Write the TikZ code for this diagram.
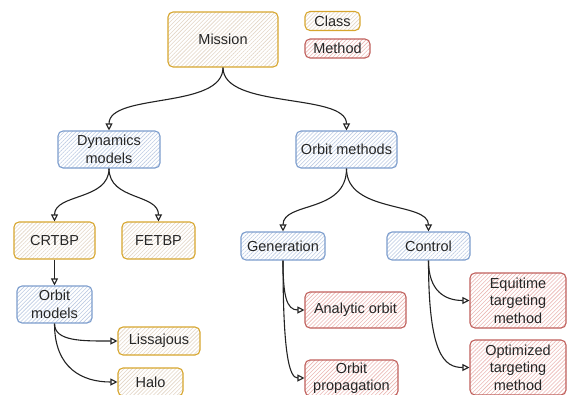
\documentclass[tikz,border=0pt]{standalone}
\usepackage{fontspec}
\setmainfont{Liberation Sans}
\usetikzlibrary{patterns.meta,arrows.meta}
\definecolor{ystroke}{HTML}{D7A62E}
\definecolor{yhatch}{HTML}{E3D6C6}
\definecolor{bstroke}{HTML}{7C9DCD}
\definecolor{bhatch}{HTML}{BCCBE3}
\definecolor{rstroke}{HTML}{C0605C}
\definecolor{rhatch}{HTML}{EBB8B5}
\definecolor{txt}{HTML}{262626}
\definecolor{edge}{HTML}{222222}
\tikzset{
  base/.style={draw, rounded corners=5pt, line width=1.1pt, align=center,
    font=\fontsize{14.5}{17.5}\selectfont, text=txt, inner sep=0pt,
    preaction={fill=white}},
  cls/.style={base, draw=ystroke, pattern={Lines[angle=45,distance=2.8pt,line width=0.6pt]}, pattern color=yhatch},
  grp/.style={base, draw=bstroke, pattern={Lines[angle=45,distance=2.8pt,line width=0.6pt]}, pattern color=bhatch},
  mth/.style={base, draw=rstroke, pattern={Lines[angle=45,distance=2.8pt,line width=0.6pt]}, pattern color=rhatch},
  conn/.style={draw=edge, line width=1.1pt, -{Triangle[open,length=7pt,width=7pt]}}
}
\begin{document}
\begin{tikzpicture}[x=1pt,y=-1pt]
\useasboundingbox (0,0) rectangle (567,394);
\clip (0,0) rectangle (567,394);
% legend
\node[cls, minimum width=55pt, minimum height=19pt] (lclass) at (332.5,21) {Class};
\node[mth, minimum width=65pt, minimum height=19pt] (lmethod) at (337.5,48.5) {Method};
% nodes
\node[cls, minimum width=110pt, minimum height=55pt] (mission) at (223,39.5) {Mission};
\node[grp, minimum width=102pt, minimum height=37pt] (dyn) at (109,149.5) {Dynamics\\models};
\node[grp, minimum width=101pt, minimum height=37pt] (om) at (346.5,149.5) {Orbit methods};
\node[cls, minimum width=81pt, minimum height=37pt] (crtbp) at (54.5,240.5) {CRTBP};
\node[cls, minimum width=73pt, minimum height=37pt] (fetbp) at (158.5,240.5) {FETBP};
\node[grp, minimum width=84pt, minimum height=28pt] (gen) at (283,246) {Generation};
\node[grp, minimum width=83pt, minimum height=28pt] (ctrl) at (428.5,246) {Control};
\node[grp, minimum width=75pt, minimum height=37pt] (orbm) at (54.5,304.5) {Orbit\\models};
\node[cls, minimum width=82pt, minimum height=28pt] (liss) at (159,341) {Lissajous};
\node[cls, minimum width=65pt, minimum height=28pt] (halo) at (150.5,382) {Halo};
\node[mth, minimum width=101pt, minimum height=36pt] (ana) at (355.5,310) {Analytic orbit};
\node[mth, minimum width=93pt, minimum height=36pt] (prop) at (351.5,378) {Orbit\\propagation};
\node[mth, minimum width=96pt, minimum height=55pt] (equi) at (518,300.5) {Equitime\\targeting\\method};
\node[mth, minimum width=96pt, minimum height=55pt] (opt) at (518,367.5) {Optimized\\targeting\\method};
% connectors
\draw[conn] (mission.south) .. controls +(0,42) and +(0,-38) .. (dyn.north);
\draw[conn] (mission.south) .. controls +(0,42) and +(0,-38) .. (om.north);
\draw[conn] (dyn.south) .. controls +(0,32) and +(0,-28) .. (crtbp.north);
\draw[conn] (dyn.south) .. controls +(0,32) and +(0,-28) .. (fetbp.north);
\draw[conn] (om.south) .. controls +(0,45) and +(0,-30) .. (gen.north);
\draw[conn] (om.south) .. controls +(0,45) and +(0,-30) .. (ctrl.north);
\draw[conn] (crtbp.south) -- (orbm.north);
\draw[conn] (orbm.south) .. controls +(0,18) and +(-35,0) .. (liss.west);
\draw[conn] (orbm.south) .. controls +(0,45) and +(-35,0) .. (halo.west);
\draw[conn] (gen.south) .. controls +(0,35) and +(-18,0) .. (ana.west);
\draw[conn] (gen.south) .. controls +(0,95) and +(-15,0) .. (prop.west);
\draw[conn] (ctrl.south) .. controls +(0,30) and +(-25,0) .. (equi.west);
\draw[conn] (ctrl.south) .. controls +(0,95) and +(-25,0) .. (opt.west);
\end{tikzpicture}
\end{document}
